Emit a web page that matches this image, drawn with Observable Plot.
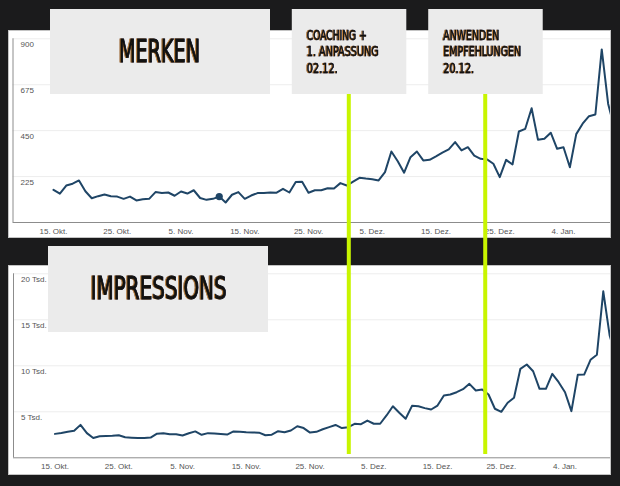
<!DOCTYPE html>
<html><head><meta charset="utf-8">
<script src="https://cdn.jsdelivr.net/npm/d3@7"></script>
<script src="https://cdn.jsdelivr.net/npm/@observablehq/plot@0.6"></script>
<style>
html,body{margin:0;padding:0;background:#1b1b1c;}
#stage{position:relative;width:620px;height:486px;overflow:hidden;background:#1b1b1c;}
</style></head><body><div id="stage"></div>
<script>
// ---- data ----
const xTickIndex = [0,10,20,30,40,50,60,70,80];
const xTickLabels = ["15. Okt.","25. Okt.","5. Nov.","15. Nov.","25. Nov.","5. Dez.","15. Dez.","25. Dez.","4. Jan."];

const merken = [160,141,181,190,206,153,119,129,137,129,
127,116,127,108,114,116,149,145,147,131,
152,142,158,120,111,116,127,98,136,149,
116,132,144,144,147,146,165,147,198,200,
146,158,158,168,167,193,181,200,219,215,
212,206,247,348,300,244,320,348,304,307,
324,342,358,394,353,369,328,312,309,288,
222,307,284,446,459,560,405,410,440,361,
369,271,433,484,521,529,848,582,459];

const impressions = [2600,2700,2830,2930,3580,2680,2150,2340,2370,2400,
2450,2230,2180,2140,2150,2200,2620,2680,2560,2570,
2430,2670,2870,2500,2680,2640,2580,2530,2870,2830,
2780,2750,2730,2450,2510,2890,2770,2970,3430,3230,
2740,2820,3100,3330,3570,3230,3330,3700,3650,4050,
3700,3700,4600,5600,4900,4240,5650,5600,5400,5250,
5680,6770,6880,7130,7460,8040,7320,7420,6880,5330,
5000,5980,6520,9670,10140,9410,7500,7500,9130,8220,
7130,5070,9020,9050,10650,11200,18100,13300,11000];

const merkenTicks = [225,450,675,900];
const merkenTickLabels = ["225","450","675","900"];
const impressionTicks = [5000,10000,15000,20000];
const impressionTickLabels = ["5 Tsd.","10 Tsd.","15 Tsd.","20 Tsd."];
const highlightIndex = 26;

const panelTitles = ["MERKEN","IMPRESSIONS"];
const eventIndex = [46.4, 67.8];
const eventLines = [["COACHING +","1. ANPASSUNG","02.12."],["ANWENDEN","EMPFEHLUNGEN","20.12."]];

// ---- charts ----
const LINE = "#1f4566";
function panel(o){
  const data = o.values.map((v,i)=>({i,v}));
  const marks = [
    Plot.ruleY(o.ticks,{stroke:"#ededed",strokeWidth:1}),
    Plot.text(o.ticks,{y:d=>d,text:(d,k)=>o.tickLabels[k],frameAnchor:"left",textAnchor:"start",lineAnchor:"middle",dx:7.5,dy:6,fill:"#555",fontSize:8}),
    Plot.axisX({ticks:xTickIndex,tickSize:0,tickPadding:6,label:null,tickFormat:d=>xTickLabels[xTickIndex.indexOf(d)],fontSize:8,fill:"#555"}),
    Plot.line(data,{x:"i",y:"v",stroke:LINE,strokeWidth:2,clip:true,strokeLinejoin:"round"}),
    Plot.ruleY([0],{stroke:"#8c8c8c",strokeWidth:1}),
    Plot.ruleX([o.xDomain[0]],{stroke:"#8c8c8c",strokeWidth:1})
  ];
  if (o.dot != null) marks.push(Plot.dot([data[o.dot]],{x:"i",y:"v",r:3.6,fill:LINE}));
  const svg = Plot.plot({
    width:603, height:o.height,
    marginTop:o.marginTop, marginBottom:o.marginBottom, marginLeft:o.marginLeft, marginRight:0,
    style:{background:"#fff",fontFamily:"'Liberation Sans', Arial, sans-serif",fontSize:"8px",color:"#555"},
    x:{domain:o.xDomain,axis:null,label:null},
    y:{domain:[0,o.yMax],axis:null,label:null},
    marks
  });
  svg.style.position="absolute";
  svg.style.left=o.left+"px";
  svg.style.top=o.top+"px";
  svg.style.outline="1px solid #c4c4c4";
  svg.style.outlineOffset="-1px";
  document.getElementById("stage").appendChild(svg);
  return svg;
}

const top1 = panel({values:merken,yMax:900,ticks:merkenTicks,tickLabels:merkenTickLabels,
  xDomain:[-6.353,87.53],left:8,top:30,height:208,marginTop:8.3,marginBottom:16,marginLeft:4.5,dot:highlightIndex});
const bot1 = panel({values:impressions,yMax:20000,ticks:impressionTicks,tickLabels:impressionTickLabels,
  xDomain:[-6.51,87.29],left:8,top:265,height:210,marginTop:8.3,marginBottom:17.7,marginLeft:5,dot:null});

// ---- overlay: event lines and label boxes ----
const NS="http://www.w3.org/2000/svg";
const ov=document.createElementNS(NS,"svg");
ov.setAttribute("width",620);ov.setAttribute("height",486);
ov.style.position="absolute";ov.style.left="0";ov.style.top="0";
document.getElementById("stage").appendChild(ov);
function el(tag,attrs,parent){const e=document.createElementNS(NS,tag);for(const k in attrs)e.setAttribute(k,attrs[k]);(parent||ov).appendChild(e);return e;}
const xs = top1.scale("x");
const FONT="'Liberation Sans Narrow','DejaVu Sans Condensed','Liberation Sans',sans-serif";
function fancyText(str,x,y,size,len,sw){
  const t=el("text",{x,y,fill:"#111",stroke:"#111","stroke-width":sw,"font-family":FONT,"font-size":size,textLength:len,lengthAdjust:"spacingAndGlyphs"});
  t.style.filter="drop-shadow(-0.8px 0 0 rgba(224,138,30,0.85)) drop-shadow(0.7px 0 0 rgba(29,58,138,0.8))";
  t.textContent=str;
}
// green event lines
eventIndex.forEach(ix=>{
  const x=xs.apply(ix)+8;
  el("line",{x1:x,x2:x,y1:94,y2:454,stroke:"#c8f500","stroke-width":4});
});
// title boxes
el("rect",{x:50,y:9,width:220,height:85,fill:"#ebebeb"});
fancyText(panelTitles[0],119,62,32,81,0.9);
el("rect",{x:48,y:246,width:220,height:86,fill:"#ebebeb"});
fancyText(panelTitles[1],90.7,299.3,32,136,0.9);
// event boxes, centred on their lines
const evLens=[[60,72,31],[56,78,31]];
eventIndex.forEach((ix,k)=>{
  const cx=xs.apply(ix)+8;
  const bx=cx-57;
  el("rect",{x:bx,y:9,width:114.5,height:85,fill:"#ebebeb"});
  eventLines[k].forEach((s,j)=>fancyText(s,bx+15,40+j*16.4,14.2,evLens[k][j],0.5));
});
</script></body></html>
